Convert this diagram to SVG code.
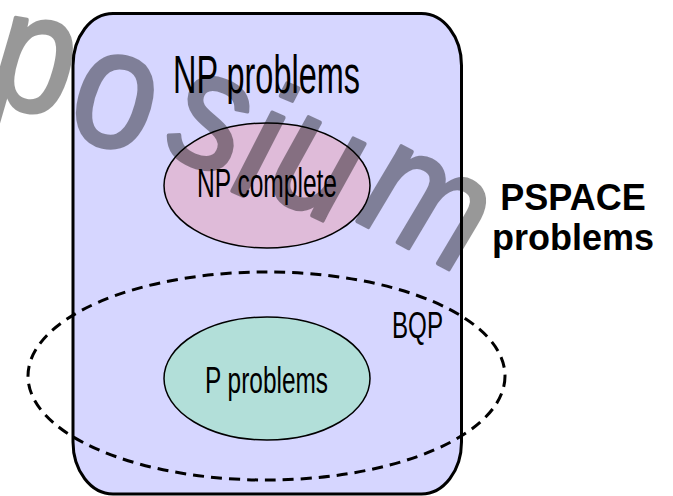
<svg xmlns="http://www.w3.org/2000/svg" width="673" height="496" viewBox="0 0 673 496">
<style>
.lbl{font-family:"Liberation Sans",Arial,sans-serif;fill:#000}
.bold{font-family:"Liberation Sans",Arial,sans-serif;font-weight:bold;fill:#000}
.ell{stroke:#000;stroke-width:1.5}
.wm{font-family:"Liberation Sans",Arial,sans-serif;font-style:italic;font-size:170px;fill:#000;stroke:#000;stroke-width:4;stroke-linejoin:round}
</style>
<rect width="673" height="496" fill="#fff"/>
<g id="np">
<rect x="73" y="13.5" width="388.5" height="480.5" rx="40" ry="52" fill="#d6d6ff" stroke="#000" stroke-width="3"/>
<text class="lbl" x="173" y="93" font-size="53" textLength="187" lengthAdjust="spacingAndGlyphs">NP problems</text>
</g>
<g id="npc">
<ellipse class="ell" cx="267" cy="185.5" rx="103" ry="62.5" fill="#dfbbd9"/>
<text class="lbl" x="197" y="197" font-size="40" textLength="140" lengthAdjust="spacingAndGlyphs">NP complete</text>
</g>
<g id="p">
<ellipse class="ell" cx="267" cy="378.5" rx="103" ry="61.5" fill="#b2dfd9"/>
<text class="lbl" x="205" y="393" font-size="36" textLength="123" lengthAdjust="spacingAndGlyphs">P problems</text>
</g>
<g id="bqp">
<ellipse cx="266.5" cy="376" rx="238.5" ry="104" fill="none" stroke="#000" stroke-width="3" stroke-dasharray="11 7"/>
<text class="lbl" x="392" y="338" font-size="36" textLength="51" lengthAdjust="spacingAndGlyphs">BQP</text>
</g>
<g id="pspace">
<text class="bold" x="573" y="210" font-size="36" text-anchor="middle">PSPACE</text>
<text class="bold" x="573" y="250" font-size="36" text-anchor="middle">problems</text>
</g>
<g id="watermark" opacity="0.4" transform="matrix(0.85 0 0 1 0 0)">
<text class="wm" x="-13.5 80.5 192.2 270.2 311.2 417.3" y="104 138 153 190 193 220" rotate="8 10 18 20 22 24">posium</text>
</g>
</svg>
